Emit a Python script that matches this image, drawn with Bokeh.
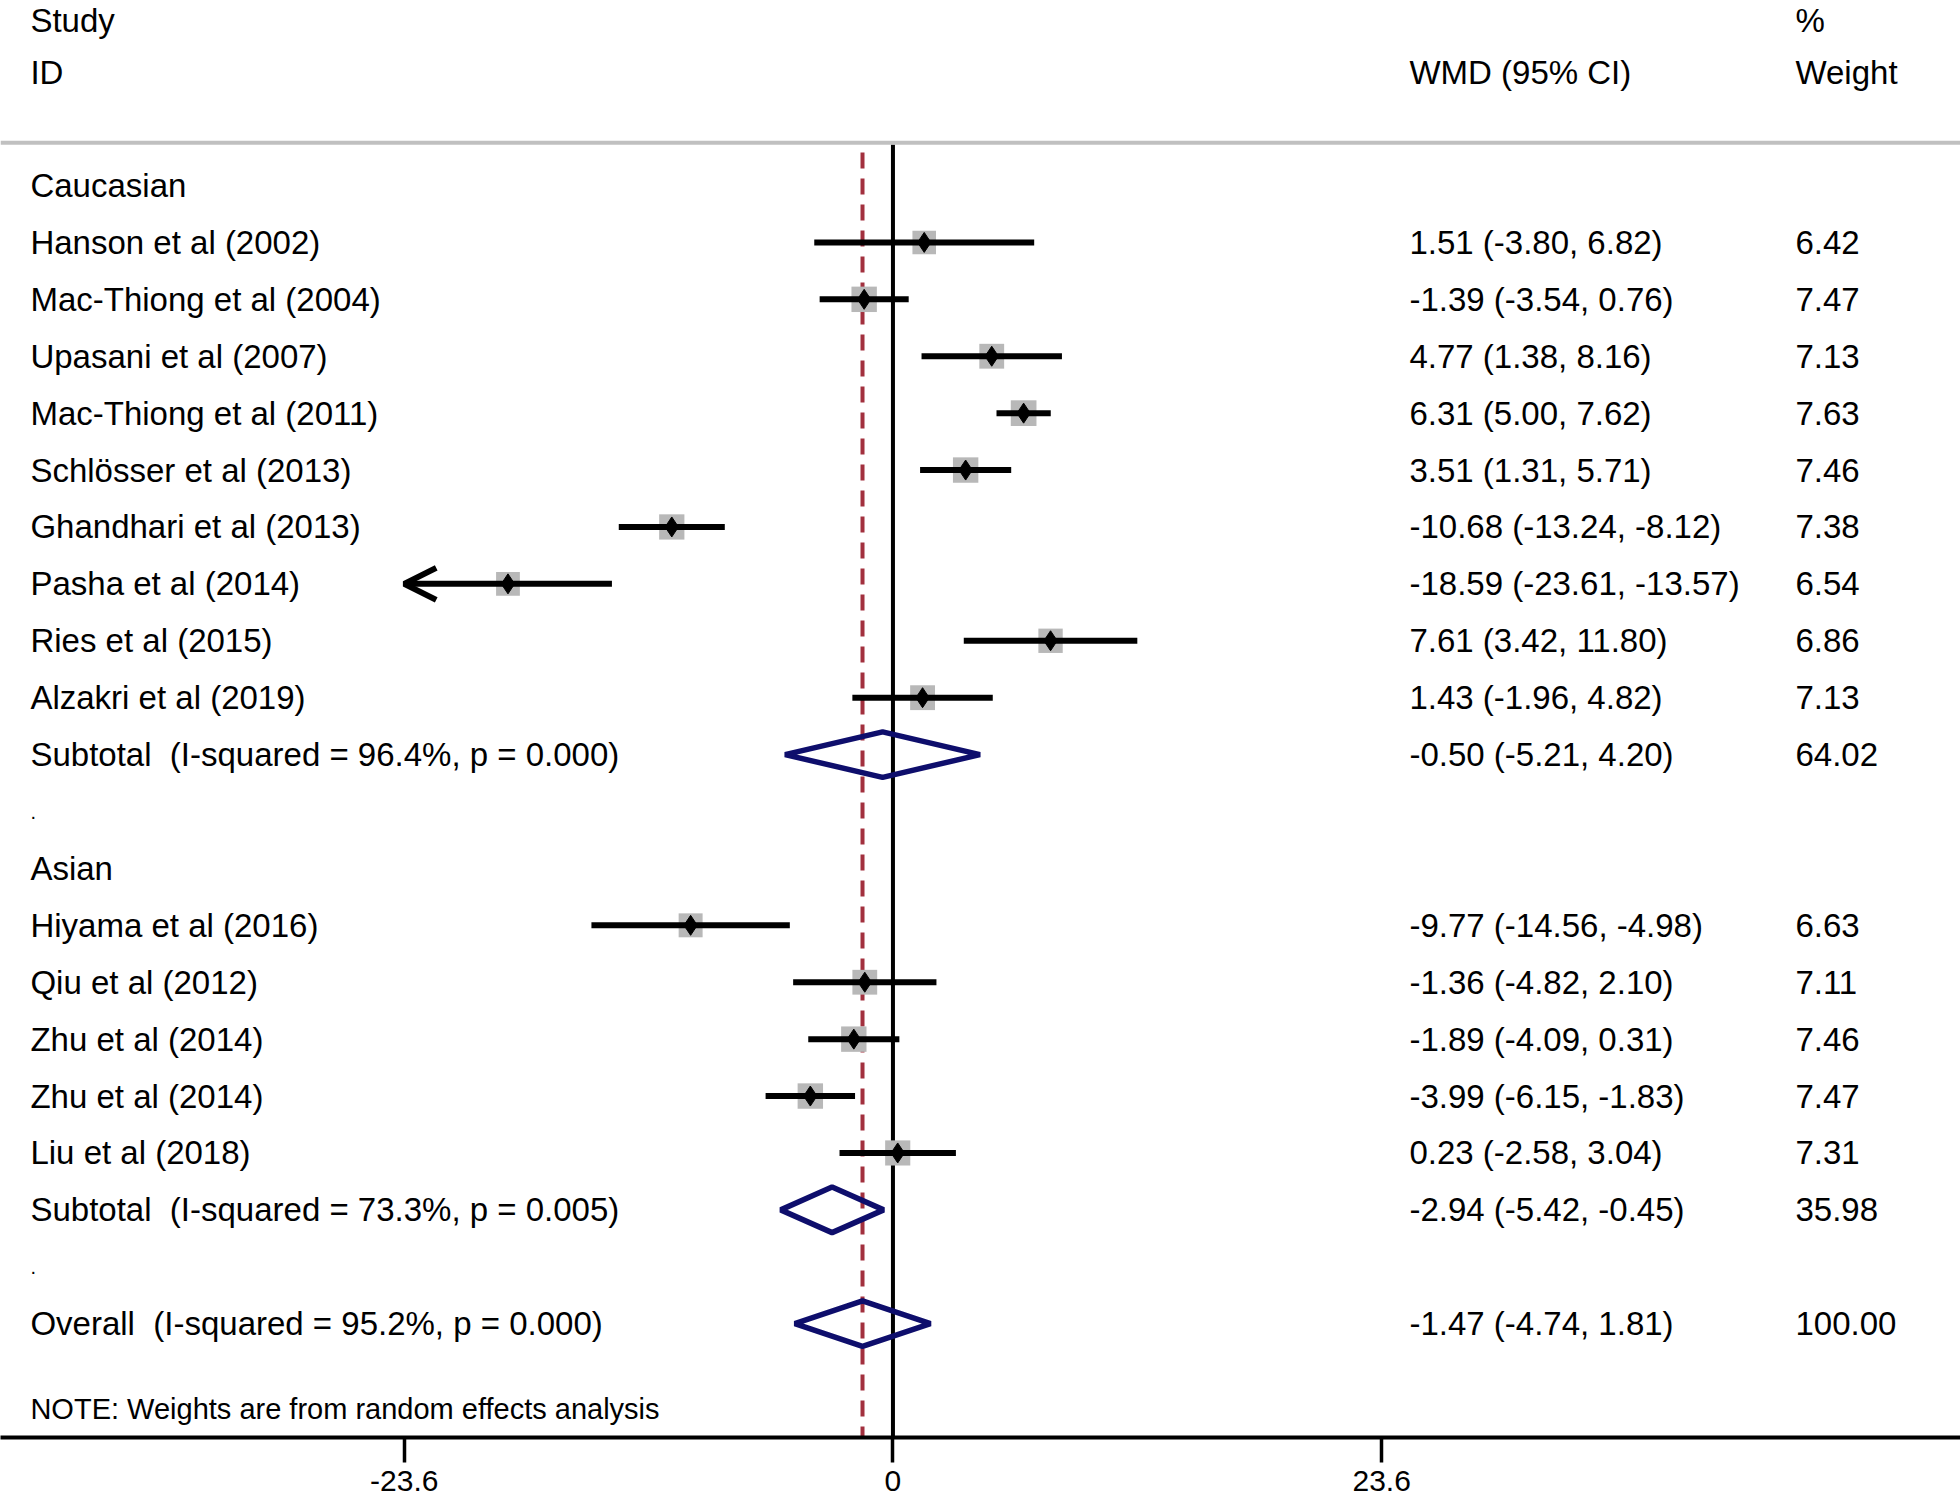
from bokeh.plotting import figure
from bokeh.models import (Range1d, LinearAxis, FixedTicker, Span, ColumnDataSource,
                          Arrow, OpenHead)
from bokeh.core.properties import value
from bokeh.embed import file_html
from bokeh.resources import INLINE
import math

# ---------------- data ----------------
cau_studies = ["Hanson et al (2002)", "Mac-Thiong et al (2004)", "Upasani et al (2007)",
               "Mac-Thiong et al (2011)", "Schlösser et al (2013)", "Ghandhari et al (2013)",
               "Pasha et al (2014)", "Ries et al (2015)", "Alzakri et al (2019)"]
cau_wmd = [1.51, -1.39, 4.77, 6.31, 3.51, -10.68, -18.59, 7.61, 1.43]
cau_lo = [-3.80, -3.54, 1.38, 5.00, 1.31, -13.24, -23.61, 3.42, -1.96]
cau_hi = [6.82, 0.76, 8.16, 7.62, 5.71, -8.12, -13.57, 11.80, 4.82]
cau_w = [6.42, 7.47, 7.13, 7.63, 7.46, 7.38, 6.54, 6.86, 7.13]

asi_studies = ["Hiyama et al (2016)", "Qiu et al (2012)", "Zhu et al (2014)",
               "Zhu et al (2014)", "Liu et al (2018)"]
asi_wmd = [-9.77, -1.36, -1.89, -3.99, 0.23]
asi_lo = [-14.56, -4.82, -4.09, -6.15, -2.58]
asi_hi = [-4.98, 2.10, 0.31, -1.83, 3.04]
asi_w = [6.63, 7.11, 7.46, 7.47, 7.31]

group_names = ["Caucasian", "Asian"]
sub_labels = ["Subtotal \u00a0(I-squared = 96.4%, p = 0.000)",
              "Subtotal \u00a0(I-squared = 73.3%, p = 0.005)"]
sub_wmd = [-0.50, -2.94]
sub_lo = [-5.21, -5.42]
sub_hi = [4.20, -0.45]
sub_w = [64.02, 35.98]

overall_label = "Overall \u00a0(I-squared = 95.2%, p = 0.000)"
overall_wmd = -1.47
overall_lo = -4.74
overall_hi = 1.81
overall_w = 100.00

note = "NOTE: Weights are from random effects analysis"
tick_values = [-23.6, 0, 23.6]
tick_labels = ["-23.6", "0", "23.6"]
null_value = 0

# ---------------- layout ----------------
FONT = "Liberation Sans"
x_left, x_right = -43.095, 51.55
col_label_x = -41.65
col_wmd_x = 24.94
col_w_x = 43.58
y_top, y_bottom = -3.251, 22.0

p = figure(width=1960, height=1504, x_range=Range1d(x_left, x_right),
           y_range=Range1d(y_bottom, y_top), output_backend="svg",
           toolbar_location=None, min_border=0, min_border_bottom=67,
           x_axis_type=None, y_axis_type=None)
p.outline_line_color = None
p.xgrid.visible = False
p.ygrid.visible = False
p.background_fill_color = "white"
p.border_fill_color = "white"

# build rows
study_rows = {"label": [], "y": [], "est": [], "lo": [], "hi": [], "w": []}
labels_txt, labels_y = [], []
wmd_txt, wmd_y = [], []
wt_txt, wt_y = [], []
diam_xs, diam_ys = [], []


def fmt(e, l, h):
    return f"{e:.2f} ({l:.2f}, {h:.2f})"


groups = [(cau_studies, cau_wmd, cau_lo, cau_hi, cau_w),
          (asi_studies, asi_wmd, asi_lo, asi_hi, asi_w)]
r = 0
dot_rows = []
for gi, (names, est, lo, hi, w) in enumerate(groups):
    labels_txt.append(group_names[gi]); labels_y.append(r)
    r += 1
    for n, e, l, h, ww in zip(names, est, lo, hi, w):
        study_rows["label"].append(n); study_rows["y"].append(r)
        study_rows["est"].append(e); study_rows["lo"].append(l)
        study_rows["hi"].append(h); study_rows["w"].append(ww)
        labels_txt.append(n); labels_y.append(r)
        wmd_txt.append(fmt(e, l, h)); wmd_y.append(r)
        wt_txt.append(f"{ww:.2f}"); wt_y.append(r)
        r += 1
    labels_txt.append(sub_labels[gi]); labels_y.append(r)
    wmd_txt.append(fmt(sub_wmd[gi], sub_lo[gi], sub_hi[gi])); wmd_y.append(r)
    wt_txt.append(f"{sub_w[gi]:.2f}"); wt_y.append(r)
    diam_xs.append([sub_lo[gi], sub_wmd[gi], sub_hi[gi], sub_wmd[gi]])
    diam_ys.append([r, r - 0.4, r, r + 0.4])
    r += 1
    dot_rows.append(r)
    r += 1
labels_txt.append(overall_label); labels_y.append(r)
wmd_txt.append(fmt(overall_wmd, overall_lo, overall_hi)); wmd_y.append(r)
wt_txt.append(f"{overall_w:.2f}"); wt_y.append(r)
diam_xs.append([overall_lo, overall_wmd, overall_hi, overall_wmd])
diam_ys.append([r, r - 0.4, r, r + 0.4])
overall_row = r
note_row = r + 1.5

# separator
p.add_layout(Span(location=-0.75, dimension="width", line_color="#c0c0c0", line_width=4))

# null line and overall dashed line
p.segment(x0=[null_value], y0=[-0.72], x1=[null_value], y1=[y_bottom],
          line_color="black", line_width=4)
p.segment(x0=[overall_wmd], y0=[-0.58], x1=[overall_wmd], y1=[y_bottom],
          line_color="#a2303e", line_width=4, line_dash="16 10")

# weight boxes
box_size = [9.3 * math.sqrt(w) for w in study_rows["w"]]
src = ColumnDataSource(dict(y=study_rows["y"], est=study_rows["est"], size=box_size))
p.scatter(x="est", y="y", size="size", marker="square", source=src,
          fill_color="#b8b8b8", line_color=None)

# CI lines (clipped at the axis limit, arrow if clipped)
axis_min, axis_max = tick_values[0], tick_values[-1]
seg_x0, seg_x1, seg_y = [], [], []
arr_xs, arr_xe, arr_y = [], [], []
for y, l, h in zip(study_rows["y"], study_rows["lo"], study_rows["hi"]):
    if l < axis_min:
        arr_xs.append(h); arr_xe.append(axis_min); arr_y.append(y)
    else:
        seg_x0.append(l); seg_x1.append(h); seg_y.append(y)
p.segment(x0=seg_x0, y0=seg_y, x1=seg_x1, y1=seg_y, line_color="black", line_width=6)
if arr_y:
    asrc = ColumnDataSource(dict(xs=arr_xs, xe=arr_xe, y=arr_y))
    p.add_layout(Arrow(x_start="xs", y_start="y", x_end="xe", y_end="y", source=asrc,
                       line_color="black", line_width=6,
                       end=OpenHead(size=32, line_width=6, line_color="black")))

# point estimates
p.scatter(x="est", y="y", size=20, marker="diamond", source=src,
          fill_color="black", line_color="black")

# pooled diamonds
p.patches(xs=diam_xs, ys=diam_ys, fill_color=None, line_color="#0e0e6c", line_width=5.5)

# texts
common = dict(text_font=value(FONT), text_baseline="middle", text_align="left",
              text_color="black")
p.text(x=[col_label_x] * len(labels_y), y=labels_y, text=labels_txt,
       text_font_size="33px", **common)
p.text(x=[col_label_x] * len(dot_rows), y=dot_rows, text=["."] * len(dot_rows),
       text_font_size="20px", **common)
p.text(x=[col_wmd_x] * len(wmd_y), y=wmd_y, text=wmd_txt, text_font_size="33px", **common)
p.text(x=[col_w_x] * len(wt_y), y=wt_y, text=wt_txt, text_font_size="33px", **common)
# headers
p.text(x=[col_label_x, col_label_x, col_wmd_x, col_w_x, col_w_x],
       y=[-2.9, -1.98, -1.98, -2.9, -1.98],
       text=["Study", "ID", "WMD (95% CI)", "%", "Weight"],
       text_font_size="33px", **common)
p.text(x=[col_label_x], y=[note_row], text=[note], text_font_size="29px", **common)

# axis
ax = LinearAxis(ticker=FixedTicker(ticks=tick_values),
                major_label_overrides={t: s for t, s in zip(tick_values, tick_labels)})
ax.axis_line_width = 4
ax.axis_line_color = "black"
ax.major_tick_line_width = 3.5
ax.major_tick_out = 25
ax.major_tick_in = 0
ax.minor_tick_line_color = None
ax.major_label_text_font = FONT
ax.major_label_text_font_size = "30px"
ax.major_label_text_color = "black"
ax.major_label_standoff = 8
p.add_layout(ax, "below")

open("out.html", "w").write(file_html(p, INLINE))
